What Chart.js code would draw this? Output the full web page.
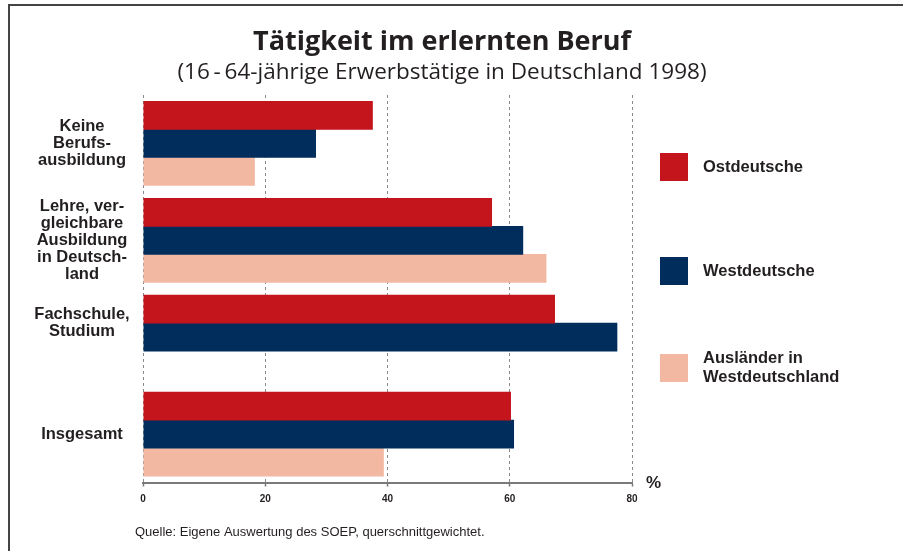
<!DOCTYPE html>
<html>
<head>
<meta charset="utf-8">
<script src="https://cdn.jsdelivr.net/npm/chart.js@4/dist/chart.umd.min.js"></script>
<style>
  html,body{margin:0;padding:0;background:#fff;}
  #wrap{width:903px;height:551px;position:relative;}
</style>
</head>
<body>
<div id="wrap"><canvas id="c"></canvas></div>
<script>
const categories = [
  ['Keine','Berufs-','ausbildung'],
  ['Lehre, ver-','gleichbare','Ausbildung','in Deutsch-','land'],
  ['Fachschule,','Studium'],
  ['Insgesamt']
];
const seriesNames = [['Ostdeutsche'], ['Westdeutsche'], ['Ausländer in','Westdeutschland']];
const ostValues  = [37.6, 57.1, 67.4, 60.2];
const westValues = [28.3, 62.2, 77.6, 60.7];
const auslValues = [18.3, 66.0, null, 39.4];
const xTicks = [0, 20, 40, 60, 80];
const colors = ['#c4151c', '#002d5c', '#f2b8a2'];

const title = 'Tätigkeit im erlernten Beruf';
const subtitle = '(16\u2009-\u200964-jährige Erwerbstätige in Deutschland 1998)';
const source = 'Quelle: Eigene Auswertung des SOEP, querschnittgewichtet.';

const txt = '#231f20';

const decor = {
  id:'decor',
  beforeDraw(chart){
    const ctx = chart.ctx;
    ctx.save();
    ctx.fillStyle = '#fff';
    ctx.fillRect(0,0,chart.width,chart.height);
    // frame
    ctx.strokeStyle = '#444';
    ctx.lineWidth = 2;
    ctx.beginPath();
    ctx.moveTo(9, chart.height);
    ctx.lineTo(9, 5);
    ctx.lineTo(chart.width, 5);
    ctx.stroke();
    ctx.restore();
  },
  afterDraw(chart){
    const ctx = chart.ctx;
    const x = chart.scales.x;
    ctx.save();
    ctx.fillStyle = txt;
    ctx.textAlign = 'center';
    ctx.textBaseline = 'middle';
    // title
    ctx.font = 'bold 27px "Open Sans"';
    ctx.fillText(title, 442, 42);
    ctx.font = '22.5px "Open Sans"';
    ctx.fillText(subtitle, 442, 73);

    // category labels, centered on the bars that exist
    ctx.font = 'bold 16.5px "Liberation Sans"';
    categories.forEach((lines, i) => {
      let top = Infinity, bot = -Infinity;
      chart.data.datasets.forEach((ds, d) => {
        if (ds.data[i] == null) return;
        const bar = chart.getDatasetMeta(d).data[i];
        top = Math.min(top, bar.y - bar.height/2);
        bot = Math.max(bot, bar.y + bar.height/2);
      });
      const cy = (top + bot)/2;
      const lh = 17;
      lines.forEach((l, k) => {
        ctx.fillText(l, 82, cy + (k - (lines.length-1)/2)*lh);
      });
    });

    // legend
    const legY = [167, 271, 368];
    seriesNames.forEach((lines, i) => {
      ctx.fillStyle = colors[i];
      ctx.fillRect(660, legY[i]-14, 28, 28);
      ctx.fillStyle = txt;
      ctx.textAlign = 'left';
      ctx.font = 'bold 16.5px "Liberation Sans"';
      lines.forEach((l, k) => {
        ctx.fillText(l, 703, legY[i] + (k - (lines.length-1)/2)*19);
      });
    });

    // percent sign
    ctx.font = 'bold 17px "Liberation Sans"';
    ctx.fillText('%', 646, x.top + 1);

    // source
    ctx.font = '13px "Liberation Sans"';
    ctx.fillText(source, 135, 532);
    ctx.restore();
  }
};

new Chart(document.getElementById('c'), {
  type:'bar',
  data:{
    labels: categories.map(c => c.join(' ')),
    datasets:[
      { label: seriesNames[0].join(' '), data: ostValues,  backgroundColor: colors[0] },
      { label: seriesNames[1].join(' '), data: westValues, backgroundColor: colors[1] },
      { label: seriesNames[2].join(' '), data: auslValues, backgroundColor: colors[2] }
    ]
  },
  options:{
    indexAxis:'y',
    responsive:true,
    maintainAspectRatio:false,
    animation:false,
    datasets:{ bar:{ categoryPercentage:0.866, barPercentage:1.03, borderWidth:0 } },
    layout:{ padding:{ left:143, right:271, top:95, bottom:38.5 } },
    plugins:{ legend:{display:false}, tooltip:{enabled:false}, title:{display:false} },
    scales:{
      y:{ display:false },
      x:{
        min:0, max:80,
        afterBuildTicks: s => { s.ticks = xTicks.map(v => ({value:v})); },
        afterFit: s => { s.height = 30; },
        ticks:{ font:{ family:'Liberation Sans', size:10, weight:'bold' }, color:txt, padding:7 },
        grid:{ color:'#8a8a8a', lineWidth:1, drawTicks:true, tickLength:4, tickColor:'#777', tickWidth:1.5 },
        border:{ display:true, color:'#7a7a7a', width:2, dash:[3,3] }
      }
    }
  },
  plugins:[decor]
});
</script>
</body>
</html>
